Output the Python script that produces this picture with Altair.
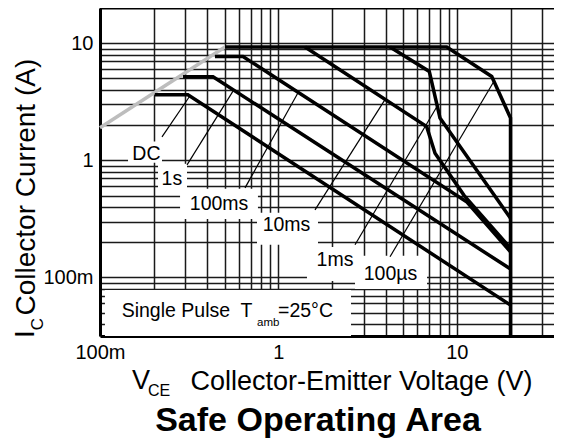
import altair as alt
import pandas as pd

FONT = "Liberation Sans"
X_MIN, X_MAX = 0.1, 35.06
Y_MIN, Y_MAX = 0.0316, 20

# ---- SOA curves (V, I) ----
series_names = ["DC", "1s", "100ms", "10ms", "1ms", "100us"]
dc_v = [0.203, 0.311, 20]
dc_i = [3.63, 3.63, 0.058]
s1_v = [0.292, 0.43, 20]
s1_i = [5.18, 5.18, 0.118]
ms100_v = [0.441, 0.633, 11.4, 20]
ms100_i = [7.7, 7.7, 0.44, 0.165]
ms10_v = [1.41, 6.78, 7.55, 11.0, 20]
ms10_i = [9.3, 1.94, 1.15, 0.5, 0.178]
ms1_v = [4.22, 7.01, 8.05, 20]
ms1_i = [9.3, 5.74, 2.3, 0.32]
us100_v = [0.502, 8.78, 15.7, 20, 20]
us100_i = [9.3, 9.3, 5.2, 2.3, 0.0316]

# R_DS(on) limit (grey)
rds_v = [0.1, 0.502]
rds_i = [1.9, 9.3]

# ---- curve labels ----
label_text = ["DC", "1s", "100ms", "10ms", "1ms", "100µs"]
label_v = [0.182, 0.253, 0.465, 1.11, 2.076, 4.25]
label_i = [1.125, 0.688, 0.425, 0.278, 0.14, 0.108]
box_v1 = [0.1436, 0.2114, 0.281, 0.7586, 1.446, 2.688]
box_v2 = [0.2226, 0.3074, 0.768, 1.667, 2.758, 6.81]
box_i1 = [0.953, 0.56, 0.316, 0.19, 0.0933, 0.0797]
box_i2 = [1.45, 0.934, 0.571, 0.356, 0.182, 0.153]
lead_v1 = [0.2226, 0.3074, 0.65, 1.604, 2.688, 4.222]
lead_i1 = [1.588, 0.915, 0.582, 0.378, 0.19, 0.15]
lead_v2 = [0.3195, 0.5566, 1.288, 3.958, 7.745, 16.16]
lead_i2 = [3.56, 3.9, 3.78, 3.3, 2.88, 4.73]

# "Single Pulse" note box and its text pieces
note_v = [0.1066, 2.553]
note_i = [0.0316, 0.0782]
note_parts = ["Single Pulse\u00a0 T", "amb", "=25°C"]
note_part_v = [0.1323, 0.7586, 0.995]
note_part_i = [0.046, 0.0385, 0.046]
note_part_size = [19.5, 11.5, 19.5]

x_grid = [0.1, 0.2, 0.3, 0.4, 0.5, 0.6, 0.7, 0.8, 0.9,
          1, 2, 3, 4, 5, 6, 7, 8, 9, 10, 20, 30]
y_grid = [0.04, 0.05, 0.06, 0.07, 0.08, 0.09,
          0.1, 0.2, 0.3, 0.4, 0.5, 0.6, 0.7, 0.8, 0.9,
          1, 2, 3, 4, 5, 6, 7, 8, 9, 10]

rows = []
for name, vs, cs in zip(series_names,
                        [dc_v, s1_v, ms100_v, ms10_v, ms1_v, us100_v],
                        [dc_i, s1_i, ms100_i, ms10_i, ms1_i, us100_i]):
    for k, (v, c) in enumerate(zip(vs, cs)):
        rows.append({"series": name, "k": k, "V": v, "I": c})
curves = pd.DataFrame(rows)
rds = pd.DataFrame({"V": rds_v, "I": rds_i, "k": [0, 1]})
labels = pd.DataFrame({"t": label_text, "V": label_v, "I": label_i,
                       "V1": box_v1, "V2": box_v2, "I1": box_i1, "I2": box_i2,
                       "LV1": lead_v1, "LV2": lead_v2, "LI1": lead_i1, "LI2": lead_i2})
note = pd.DataFrame({"V1": [note_v[0]], "V2": [note_v[1]], "I1": [note_i[0]], "I2": [note_i[1]]})
note_txt = pd.DataFrame({"t": note_parts, "V": note_part_v, "I": note_part_i, "s": note_part_size})
top = pd.DataFrame({"V1": [X_MIN], "V2": [X_MAX], "I": [Y_MAX]})

xs = alt.Scale(type="log", domain=[X_MIN, X_MAX], nice=False)
ys = alt.Scale(type="log", domain=[Y_MIN, Y_MAX], nice=False)

x_axis = alt.Axis(
    values=x_grid,
    labelExpr="datum.value == 0.1 ? '100m' : datum.value == 1 ? '1' : datum.value == 10 ? '10' : ''",
    grid=True, gridColor="#1a1a1a", gridWidth=1.5, ticks=False,
    domain=True, domainColor="black", domainWidth=3,
    labelFont=FONT, labelFontSize=20, labelColor="black", labelPadding=6,
    labelOverlap=False, labelFlush=False,
    title="Collector-Emitter Voltage (V)", titleFont=FONT, titleFontSize=27,
    titleFontWeight="normal", titleColor="black",
    titleX=90, titleY=53, titleAlign="left", titleBaseline="alphabetic",
)
y_axis = alt.Axis(
    values=y_grid,
    labelExpr="datum.value == 10 ? '10' : datum.value == 1 ? '1' : datum.value == 0.1 ? '100m' : ''",
    grid=True, gridColor="#1a1a1a", gridWidth=1.5, ticks=False,
    domain=True, domainColor="black", domainWidth=3,
    labelFont=FONT, labelFontSize=20, labelColor="black", labelPadding=7,
    labelOverlap=False, labelFlush=False,
    title="Collector Current (A)", titleFont=FONT, titleFontSize=28,
    titleFontWeight="normal", titleColor="black",
    titleX=-66, titleY=307, titleAngle=270, titleAlign="left", titleBaseline="alphabetic",
)


def X(f):
    return alt.X(f, type="quantitative", scale=xs, axis=x_axis)


def Y(f):
    return alt.Y(f, type="quantitative", scale=ys, axis=y_axis)


lines = alt.Chart(curves).mark_line(color="black", strokeWidth=3.5, strokeJoin="miter").encode(
    x=X("V"), y=Y("I"), detail="series:N", order="k:Q")
grey = alt.Chart(rds).mark_line(color="#bdbdbd", strokeWidth=3.5).encode(
    x=X("V"), y=Y("I"), order="k:Q")
boxes = alt.Chart(labels).mark_rect(color="white").encode(
    x=X("V1"), x2="V2", y=Y("I1"), y2="I2")
leaders = alt.Chart(labels).mark_rule(color="black", strokeWidth=1.2).encode(
    x=X("LV1"), x2="LV2", y=Y("LI1"), y2="LI2")
texts = alt.Chart(labels).mark_text(font=FONT, fontSize=19.5, color="black").encode(
    x=X("V"), y=Y("I"), text="t:N")
note_box = alt.Chart(note).mark_rect(color="white").encode(
    x=X("V1"), x2="V2", y=Y("I1"), y2="I2")
note_text = alt.Chart(note_txt).mark_text(font=FONT, color="black", align="left",
                                          baseline="alphabetic").encode(
    x=X("V"), y=Y("I"), text="t:N", size=alt.Size("s:Q", scale=None, legend=None))
top_rule = alt.Chart(top).mark_rule(color="black", strokeWidth=3).encode(
    x=X("V1"), x2="V2", y=Y("I"))

# axis title decorations (subscripts) and chart title
vce_v = alt.Chart(pd.DataFrame({"t": ["V"]})).mark_text(
    font=FONT, fontSize=27, color="black", align="left", baseline="alphabetic").encode(
    text="t:N", x=alt.value(32), y=alt.value(381))
vce_ce = alt.Chart(pd.DataFrame({"t": ["CE"]})).mark_text(
    font=FONT, fontSize=16, color="black", align="left", baseline="alphabetic").encode(
    text="t:N", x=alt.value(48), y=alt.value(388))
ic_i = alt.Chart(pd.DataFrame({"t": ["I"]})).mark_text(
    font=FONT, fontSize=28, color="black", align="center", baseline="alphabetic", angle=270).encode(
    text="t:N", x=alt.value(-66), y=alt.value(326))
ic_c = alt.Chart(pd.DataFrame({"t": ["C"]})).mark_text(
    font=FONT, fontSize=17, color="black", align="center", baseline="alphabetic", angle=270).encode(
    text="t:N", x=alt.value(-57), y=alt.value(316))
title = alt.Chart(pd.DataFrame({"t": ["Safe Operating Area"]})).mark_text(
    font=FONT, fontSize=34, fontWeight="bold", color="black", align="center",
    baseline="alphabetic").encode(
    text="t:N", x=alt.value(218), y=alt.value(423))

chart = alt.layer(
    note_box, boxes, grey, lines, leaders, texts, note_text, top_rule,
    vce_v, vce_ce, ic_i, ic_c, title,
).properties(
    width=454, height=328, autosize="none",
    padding={"left": 92, "top": 0, "right": 0, "bottom": 104},
).configure_view(strokeWidth=0)

chart.save("out.html", embed_options={"renderer": "svg", "actions": False})
